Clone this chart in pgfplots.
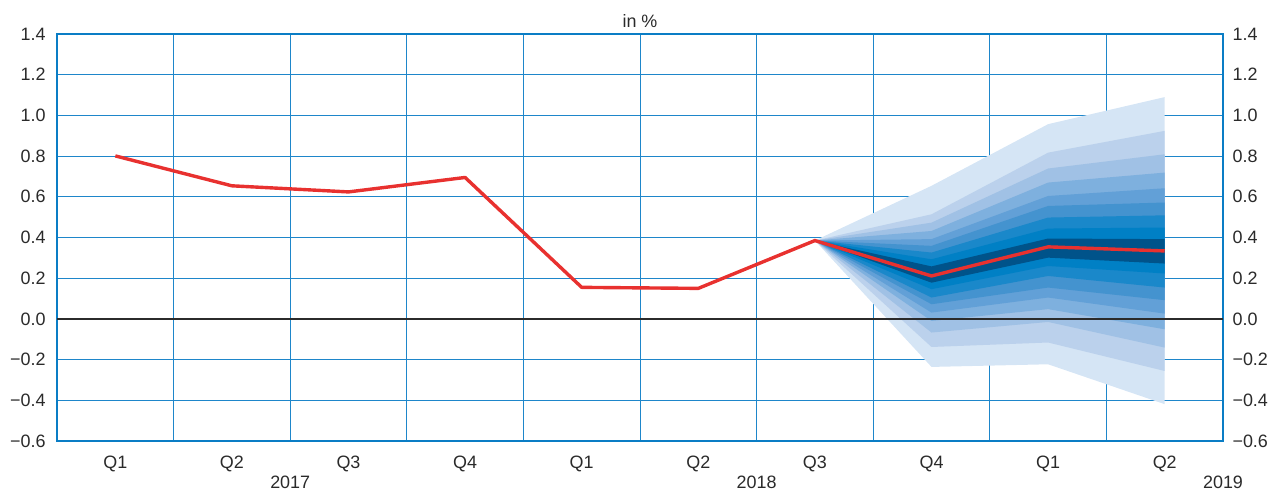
\documentclass[border=0pt]{standalone}
\usepackage{pgfplots}
\pgfplotsset{compat=1.18}
\usepackage{fontspec}
\setmainfont{Liberation Sans}
\definecolor{gridblue}{HTML}{1E86CA}
\definecolor{frameblue}{HTML}{0A7DC5}
\definecolor{redline}{HTML}{E8312F}
\definecolor{txt}{HTML}{2A2A2A}
\definecolor{zeroline}{HTML}{2B2B2B}
\definecolor{f0}{HTML}{D5E5F5}
\definecolor{f1}{HTML}{BBD1EC}
\definecolor{f2}{HTML}{A0C1E5}
\definecolor{f3}{HTML}{7EB0DE}
\definecolor{f4}{HTML}{62A0D7}
\definecolor{f5}{HTML}{4493CF}
\definecolor{f6}{HTML}{1A88CA}
\definecolor{f7}{HTML}{0080C5}
\definecolor{f8}{HTML}{00538A}
\newcommand{\lblfont}{\fontsize{18}{21}\selectfont}
\begin{document}
\begin{tikzpicture}
\begin{axis}[name=ax, scale only axis, width=1166bp, height=407bp,
  xmin=0, xmax=10, ymin=-0.6, ymax=1.4,
  xtick={0.5,1.5,2.5,3.5,4.5,5.5,6.5,7.5,8.5,9.5},
  xticklabels={Q1,Q2,Q3,Q4,Q1,Q2,Q3,Q4,Q1,Q2},
  minor xtick={1,2,3,4,5,6,7,8,9},
  xminorgrids, ymajorgrids,
  ytick={-0.6,-0.4,-0.2,0,0.2,0.4,0.6,0.8,1.0,1.2,1.4},
  yticklabels={−0.6,−0.4,−0.2,0.0,0.2,0.4,0.6,0.8,1.0,1.2,1.4},
  major tick length=0, minor tick length=0,
  tick label style={font=\lblfont, text=txt},
  xticklabel style={anchor=base, yshift=-27bp},
  yticklabel style={anchor=east, xshift=-8bp},
  axis line style={frameblue, line width=2.5bp},
  grid style={gridblue, line width=1bp},
  minor grid style={gridblue, line width=1bp},
  ytick pos=left, xtick pos=bottom,
  clip mode=individual,
]
% fan chart bands, outermost to innermost
\addplot[fill=f0, draw=none] coordinates {(6.5,0.385) (7.5,0.654) (8.5,0.957) (9.5,1.09) (9.5,-0.419) (8.5,-0.223) (7.5,-0.236)} -- cycle;
\addplot[fill=f1, draw=none] coordinates {(6.5,0.385) (7.5,0.514) (8.5,0.817) (9.5,0.924) (9.5,-0.256) (8.5,-0.116) (7.5,-0.138)} -- cycle;
\addplot[fill=f2, draw=none] coordinates {(6.5,0.385) (7.5,0.473) (8.5,0.739) (9.5,0.809) (9.5,-0.141) (8.5,-0.015) (7.5,-0.067)} -- cycle;
\addplot[fill=f3, draw=none] coordinates {(6.5,0.385) (7.5,0.432) (8.5,0.670) (9.5,0.719) (9.5,-0.051) (8.5,0.048) (7.5,-0.010)} -- cycle;
\addplot[fill=f4, draw=none] coordinates {(6.5,0.385) (7.5,0.392) (8.5,0.604) (9.5,0.642) (9.5,0.026) (8.5,0.105) (7.5,0.031)} -- cycle;
\addplot[fill=f5, draw=none] coordinates {(6.5,0.385) (7.5,0.359) (8.5,0.555) (9.5,0.572) (9.5,0.092) (8.5,0.154) (7.5,0.072)} -- cycle;
\addplot[fill=f6, draw=none] coordinates {(6.5,0.385) (7.5,0.326) (8.5,0.498) (9.5,0.509) (9.5,0.154) (8.5,0.211) (7.5,0.105)} -- cycle;
\addplot[fill=f7, draw=none] coordinates {(6.5,0.385) (7.5,0.293) (8.5,0.444) (9.5,0.449) (9.5,0.223) (8.5,0.260) (7.5,0.146)} -- cycle;
\addplot[fill=f8, draw=none] coordinates {(6.5,0.385) (7.5,0.258) (8.5,0.395) (9.5,0.392) (9.5,0.272) (8.5,0.301) (7.5,0.178)} -- cycle;
% zero line
\addplot[zeroline, line width=1.5bp] coordinates {(0,0) (10,0)};
% actual / central projection
\addplot[redline, line width=3.4bp, line join=round] coordinates {
  (0.5,0.801) (1.5,0.654) (2.5,0.624) (3.5,0.695) (4.5,0.155)
  (5.5,0.150) (6.5,0.385) (7.5,0.211) (8.5,0.354) (9.5,0.334)};
% labels
\node[anchor=base, font=\lblfont, text=txt] at (axis cs:5,1.4) [yshift=6bp] {in \%};
\node[anchor=base, font=\lblfont, text=txt] at (axis cs:2,-0.6) [yshift=-47bp] {2017};
\node[anchor=base, font=\lblfont, text=txt] at (axis cs:6,-0.6) [yshift=-47bp] {2018};
\node[anchor=base, font=\lblfont, text=txt] at (axis cs:10,-0.6) [yshift=-47bp] {2019};
\end{axis}
\begin{axis}[scale only axis, width=1166bp, height=407bp,
  xmin=0, xmax=10, ymin=-0.6, ymax=1.4,
  axis x line=none, axis y line*=right,
  y axis line style={draw=none},
  ytick={-0.6,-0.4,-0.2,0,0.2,0.4,0.6,0.8,1.0,1.2,1.4},
  yticklabels={−0.6,−0.4,−0.2,0.0,0.2,0.4,0.6,0.8,1.0,1.2,1.4},
  major tick length=0,
  tick label style={font=\lblfont, text=txt},
  yticklabel style={anchor=west, xshift=6bp},
]
\end{axis}
\pgfresetboundingbox
\path ([shift={(-57bp,-51bp)}]ax.south west) rectangle ([shift={(50bp,34bp)}]ax.north east);
\end{tikzpicture}
\end{document}
